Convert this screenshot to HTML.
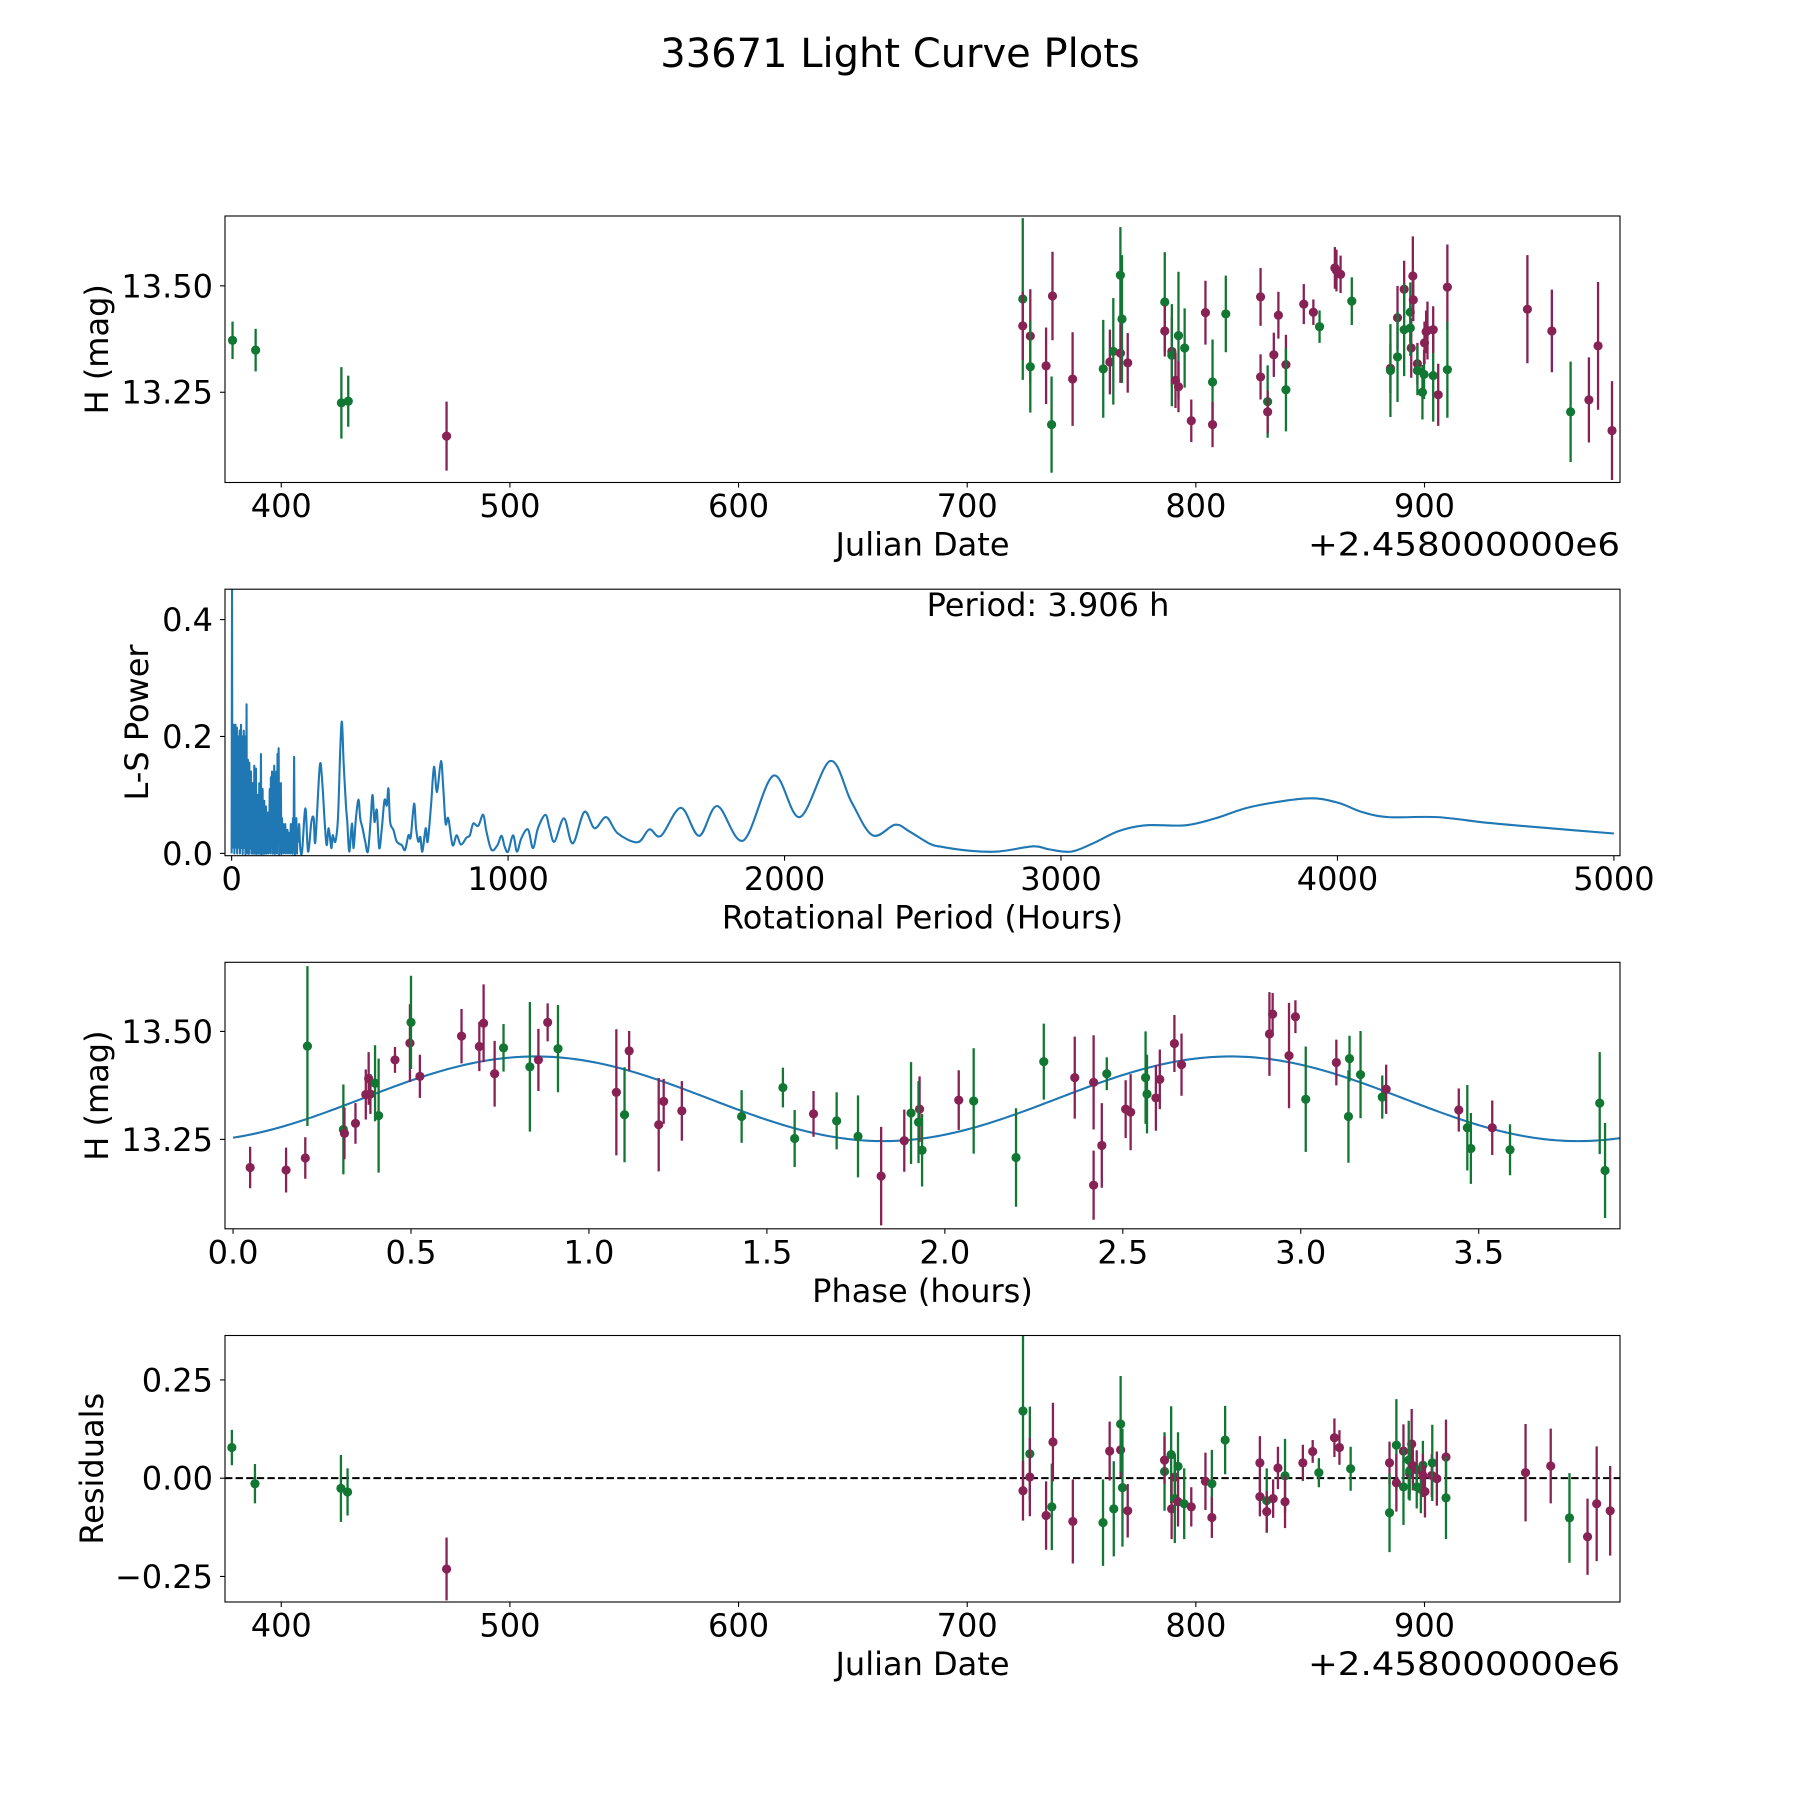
<!DOCTYPE html>
<html><head><meta charset="utf-8"><title>33671 Light Curve Plots</title>
<style>html,body{margin:0;padding:0;background:#fff}svg{display:block}text{font-family:"DejaVu Sans","Liberation Sans",sans-serif;fill:#000}</style>
</head><body>
<svg id="fig" xmlns="http://www.w3.org/2000/svg" width="1800" height="1800" viewBox="0 0 1800 1800">
<rect x="0" y="0" width="1800" height="1800" fill="#fff"/>
<text x="900" y="67" font-size="40" text-anchor="middle">33671 Light Curve Plots</text>
</svg>
<script>
// ---------- Panel 1: raw light curve ----------
const lcJD = [378.7,388.8,426.3,429.3,472.3,724.3,724.3,727.6,727.6,734.5,736.9,737.3,746.1,759.5,762.4,763.9,767.0,767.0,767.7,770.2,786.4,786.4,789.5,789.5,791.1,792.4,792.4,795.1,798.0,804.2,807.3,807.3,813.1,828.3,828.3,831.4,831.4,834.1,836.1,839.4,839.4,847.2,851.4,854.1,860.8,861.5,863.3,868.2,885.1,885.1,888.2,888.2,891.1,891.1,894.2,893.8,893.8,894.9,895.1,896.9,896.9,899.1,899.8,900.0,900.7,901.3,903.8,903.8,906.0,910.0,910.0,945.0,955.7,963.9,971.9,975.9,982.0];
const lcMag = [13.372,13.349,13.225,13.229,13.147,13.469,13.406,13.382,13.310,13.312,13.174,13.476,13.281,13.305,13.321,13.346,13.342,13.525,13.422,13.319,13.462,13.394,13.346,13.337,13.278,13.383,13.263,13.354,13.183,13.437,13.274,13.174,13.434,13.474,13.286,13.228,13.204,13.338,13.431,13.315,13.256,13.457,13.438,13.404,13.542,13.536,13.527,13.464,13.306,13.301,13.425,13.333,13.492,13.397,13.354,13.438,13.401,13.523,13.467,13.317,13.301,13.250,13.292,13.366,13.392,13.395,13.289,13.397,13.244,13.497,13.303,13.445,13.394,13.204,13.232,13.359,13.160];
const lcErr = [0.044,0.05,0.084,0.06,0.081,0.19,0.08,0.11,0.108,0.09,0.113,0.104,0.11,0.115,0.076,0.125,0.07,0.113,0.15,0.07,0.117,0.06,0.08,0.12,0.065,0.15,0.06,0.093,0.05,0.075,0.1,0.053,0.09,0.068,0.053,0.085,0.05,0.052,0.055,0.07,0.098,0.047,0.03,0.038,0.049,0.049,0.044,0.056,0.058,0.109,0.075,0.106,0.067,0.109,0.07,0.07,0.066,0.093,0.05,0.049,0.058,0.064,0.058,0.05,0.05,0.068,0.108,0.055,0.073,0.1,0.113,0.127,0.097,0.118,0.1,0.15,0.116];
const lcBand = ["g","g","g","g","m","g","m","m","g","m","g","m","m","g","m","g","m","g","g","m","g","m","m","g","m","g","m","g","m","m","g","m","g","m","m","g","m","m","m","m","g","m","m","g","m","m","m","g","m","g","m","g","m","g","m","g","g","m","m","m","g","g","g","m","m","m","g","m","m","m","g","m","m","g","m","m","m"];

// ---------- Panel 2: Lomb-Scargle periodogram ----------
const lsPeriod = [0,1.5,2.5,4,5,6.5,7.5,9,10,11.5,12.5,14,15,16.5,17.5,19,20,21.5,22.5,24,25,26.5,27.5,29,30,31.5,32.5,34,35,36.5,37.5,39,40,41.5,42.5,44,45,46.5,47.5,49,50,51.5,52.5,54,55,56.5,57.5,59,60,61.5,62.5,64,65.5,67,68.5,70,71.5,73,74.5,76,77.5,79,80.5,82,83.5,85,86.5,88,89.5,91,92.5,94,95.5,97,98.5,100,101.5,103,104.5,106,107.5,109,110.5,112,113.5,115,116.5,118,119.5,121,122.5,124,125.5,127,128.5,130,132,134,136,138,140,142,144,146,148,150,152,154,156,158,160,162,164,166,168,170,172,174,176,178,180,182,184,186,188,190,192,194,196,198,200,202,204,206,208,210,212,214,216,218,220,222,224,226,228,230,232,234,236,238,240,244,248,254.8,266.8,276.4,288.5,296.9,302.9,318.5,326.9,336.5,343.8,351,360.6,365.4,375,384.6,393,399,405,413.5,418.3,425.5,435.1,441.1,449.5,459.1,465.1,473.6,483.2,492.8,502.4,509.6,516.8,525.2,533.7,543.3,552.9,561.3,567.3,573.3,585.3,597.4,615.4,627.4,639.4,647.8,659.9,667.1,675.5,682.7,689.9,702,709.1,721.2,732,742.8,757.2,765.6,774,783.7,799.3,813.7,829.3,849.8,861.8,873.8,891.8,909.9,921.9,939.9,961.5,976,988,1000,1018,1032,1048,1072,1090,1108,1135,1150,1168,1202,1234,1276,1313,1355,1397,1469,1511,1553,1625,1691,1757,1851,1960,2055,2165,2242,2318,2400,2450,2527,2571,2659,2769,2900,2955,3037,3120,3208,3307,3450,3559,3691,3889,3999,4087,4185,4361,4548,4767,5000];
const lsPower = [0,0.46,0.02,0.22,0.01,0.21,0.03,0.22,0,0.19,0.02,0.22,0.01,0.2,0.03,0.215,0,0.17,0.02,0.2,0.01,0.15,0.03,0.21,0,0.18,0.02,0.22,0.01,0.14,0.03,0.2,0,0.12,0.02,0.21,0.01,0.13,0.02,0.2,0,0.1,0.02,0.255,0.01,0.13,0,0.16,0.02,0.09,0,0.155,0.01,0.08,0.02,0.14,0,0.1,0.02,0.12,0,0.07,0.01,0.15,0,0.1,0.02,0.145,0,0.08,0.01,0.1,0,0.06,0.02,0.12,0,0.07,0.01,0.17,0,0.09,0.02,0.11,0,0.06,0.01,0.09,0,0.05,0.02,0.08,0,0.05,0.01,0.07,0,0.05,0.02,0.11,0,0.13,0.02,0.14,0,0.09,0.02,0.15,0,0.08,0.01,0.14,0,0.17,0.02,0.18,0,0.08,0.02,0.12,0,0.06,0.02,0.05,0,0.04,0.02,0.05,0,0.03,0.02,0.04,0,0.03,0.02,0.035,0,0.05,0.02,0.03,0,0.06,0.01,0.165,0,0.04,0.02,0.06,0,0.035,0.02,0.05,0.01,0.003,0.077,0.003,0.054,0.06,0.02,0.148,0.128,0.054,0.014,0.043,0.009,0.031,0.02,0.06,0.179,0.225,0.156,0.082,0.054,0.003,0.051,0.009,0.06,0.092,0.06,0.043,0.02,0.003,0.054,0.1,0.054,0.074,0.009,0.043,0.091,0.082,0.111,0.054,0.04,0.02,0.014,0.006,0.031,0.028,0.085,0.043,0.02,0.028,0.003,0.043,0.02,0.082,0.148,0.105,0.158,0.111,0.051,0.06,0.014,0.031,0.015,0.027,0.031,0.051,0.047,0.066,0.037,0.006,0.014,0.03,0.011,0.003,0.031,0.003,0.026,0.041,0.009,0.043,0.066,0.043,0.02,0.06,0.017,0.071,0.043,0.062,0.034,0.019,0.041,0.03,0.078,0.03,0.081,0.022,0.133,0.062,0.158,0.088,0.031,0.049,0.038,0.016,0.011,0.005,0.003,0.012,0.007,0.003,0.018,0.038,0.048,0.048,0.06,0.08,0.094,0.087,0.071,0.062,0.062,0.052,0.043,0.034];
const bestPeriodHours = [3.906];

// ---------- Panel 3: phased light curve ----------
const phPhase = [0.048,0.149,0.203,0.209,0.310,0.313,0.344,0.373,0.381,0.386,0.399,0.409,0.455,0.497,0.500,0.525,0.642,0.692,0.704,0.735,0.760,0.834,0.858,0.884,0.913,1.077,1.100,1.113,1.196,1.210,1.261,1.429,1.545,1.578,1.631,1.696,1.756,1.821,1.886,1.905,1.929,1.926,1.936,2.039,2.081,2.200,2.278,2.365,2.418,2.418,2.441,2.455,2.508,2.522,2.564,2.568,2.593,2.604,2.645,2.665,2.912,2.921,2.967,2.985,3.014,3.100,3.134,3.137,3.168,3.229,3.240,3.444,3.468,3.478,3.538,3.588,3.840,3.855];
const phMag = [13.185,13.179,13.207,13.466,13.273,13.264,13.287,13.354,13.391,13.355,13.380,13.305,13.434,13.473,13.521,13.396,13.489,13.465,13.519,13.402,13.462,13.418,13.434,13.521,13.460,13.359,13.307,13.455,13.284,13.338,13.316,13.303,13.370,13.252,13.309,13.293,13.257,13.165,13.247,13.311,13.320,13.290,13.225,13.341,13.339,13.208,13.430,13.393,13.382,13.144,13.236,13.402,13.320,13.313,13.393,13.355,13.346,13.389,13.472,13.423,13.494,13.540,13.444,13.534,13.343,13.428,13.303,13.437,13.400,13.348,13.366,13.318,13.277,13.229,13.277,13.226,13.334,13.178];
const phErr = [0.048,0.052,0.048,0.185,0.104,0.06,0.047,0.058,0.061,0.046,0.088,0.132,0.03,0.09,0.108,0.05,0.063,0.057,0.09,0.076,0.055,0.15,0.072,0.044,0.101,0.146,0.11,0.046,0.108,0.052,0.069,0.061,0.046,0.066,0.053,0.066,0.095,0.114,0.072,0.118,0.076,0.095,0.084,0.069,0.122,0.114,0.088,0.095,0.109,0.08,0.098,0.038,0.067,0.088,0.107,0.091,0.076,0.069,0.066,0.072,0.097,0.049,0.122,0.038,0.122,0.053,0.107,0.053,0.101,0.05,0.057,0.05,0.099,0.082,0.063,0.059,0.118,0.11];
const phBand = ["m","m","m","g","g","m","m","m","m","m","g","g","m","m","g","m","m","m","m","m","g","g","m","m","g","m","g","m","m","m","m","g","g","g","m","g","g","m","m","g","m","g","g","m","g","g","g","m","m","m","m","g","m","m","g","g","m","m","m","m","m","m","m","m","g","m","g","g","g","g","m","m","g","g","m","g","g","g"];
// fitted sinusoid model: [mean, amplitude, phase of maximum, cycle length (h)]
const modelMean = [13.344];
const modelAmp = [0.098];
const modelPeakPhase = [0.85];
const modelCycle = [1.953];

// ---------- Panel 4: residuals ----------
const rsJD = [378.4,388.5,426.1,429.0,472.3,724.4,724.4,727.4,727.4,734.5,737.0,737.5,746.2,759.4,762.3,764.1,767.1,767.1,767.9,770.2,786.3,786.3,789.2,789.4,790.8,790.8,792.2,792.2,794.9,798.0,804.2,807.0,807.0,812.8,828.0,828.0,831.0,831.0,833.8,835.9,839.0,839.0,846.8,851.1,853.8,860.6,862.8,867.7,884.7,884.7,887.7,887.7,890.8,890.8,893.1,893.5,894.4,893.5,894.9,896.6,896.6,898.4,899.3,899.3,900.2,903.2,903.4,905.4,909.4,909.4,944.2,955.2,963.4,971.3,975.3,981.2];
const rsVal = [0.078,-0.014,-0.026,-0.035,-0.231,0.171,-0.032,0.062,0.003,-0.095,-0.073,0.092,-0.11,-0.113,0.069,-0.078,0.072,0.138,-0.024,-0.083,0.017,0.046,0.06,-0.078,0.003,-0.052,0.03,-0.06,-0.065,-0.073,-0.008,-0.014,-0.1,0.097,0.039,-0.047,-0.057,-0.085,-0.052,0.026,0.006,-0.06,0.039,0.068,0.014,0.103,0.078,0.024,0.039,-0.088,0.084,-0.012,0.069,-0.022,0.046,0.012,0.087,0.019,0.032,0.021,-0.022,-0.028,0.033,0.007,-0.034,0.007,0.039,-0.001,0.054,-0.05,0.014,0.031,-0.101,-0.149,-0.065,-0.083];
const rsErr = [0.045,0.05,0.085,0.06,0.08,0.2,0.076,0.12,0.1,0.087,0.11,0.1,0.107,0.11,0.075,0.121,0.07,0.122,0.15,0.068,0.1,0.06,0.123,0.077,0.057,0.113,0.087,0.063,0.09,0.05,0.073,0.086,0.052,0.087,0.068,0.05,0.082,0.052,0.049,0.054,0.094,0.067,0.046,0.029,0.037,0.049,0.044,0.056,0.054,0.1,0.117,0.073,0.068,0.097,0.1,0.054,0.089,0.076,0.063,0.05,0.055,0.061,0.062,0.055,0.066,0.055,0.097,0.069,0.095,0.105,0.124,0.095,0.114,0.097,0.146,0.114];
const rsBand = ["g","g","g","g","m","g","m","g","m","m","g","m","m","g","m","g","m","g","g","m","g","m","g","m","m","g","g","m","g","m","m","g","m","g","m","m","g","m","m","m","g","m","m","m","g","m","m","g","m","g","g","m","m","g","g","m","m","g","m","m","g","g","g","m","m","m","g","m","m","g","m","m","g","m","m","m"];

// ---------- axis tick labels ----------
const jdTicks = [400,500,600,700,800,900];
const magTicks = [13.25,13.50];
const magTickLabels = ["13.25","13.50"];
const periodTicks = [0,1000,2000,3000,4000,5000];
const powerTicks = [0.0,0.2,0.4];
const powerTickLabels = ["0.0","0.2","0.4"];
const phaseTicks = [0.0,0.5,1.0,1.5,2.0,2.5,3.0,3.5];
const phaseTickLabels = ["0.0","0.5","1.0","1.5","2.0","2.5","3.0","3.5"];
const resTicks = [-0.25,0.0,0.25];
const resTickLabels = ["\u22120.25","0.00","0.25"];

const NS = "http://www.w3.org/2000/svg";
const svg = document.getElementById("fig");
const COL = {g:"#117733", m:"#882255"};
const L = 225, R = 1620;
function lin(d0,d1,r0,r1){ return v => r0 + (v-d0)/(d1-d0)*(r1-r0); }
function mk(tag, attrs, parent){
  const e = document.createElementNS(NS, tag);
  for (const k in attrs) e.setAttribute(k, attrs[k]);
  (parent||svg).appendChild(e);
  return e;
}
let clipN = 0;
function panel(name, top, bottom, xs, ys, xt, xtl, yt, ytl, xlabel, ylabel, ylabX, offsetText){
  const g = mk("g", {});
  
  
  const id = "clip" + (clipN++);
  const cp = mk("clipPath", {id:id}, g);
  mk("rect", {x:L, y:top, width:R-L, height:bottom-top}, cp);
  const plot = mk("g", {"clip-path":"url(#"+id+")"}, g);
  
  
  xt.forEach((v,i) => {
    const x = xs(v);
    const t = mk("line", {x1:x, x2:x, y1:bottom, y2:bottom+5, stroke:"#000", "stroke-width":1.1}, g);
    
    
    const tx = mk("text", {x:x, y:bottom+34.5, "font-size":32, "text-anchor":"middle"}, g);
    tx.textContent = xtl[i];
    
    
  });
  yt.forEach((v,i) => {
    const y = ys(v);
    const t = mk("line", {x1:L-5, x2:L, y1:y, y2:y, stroke:"#000", "stroke-width":1.1}, g);
    
    
    const tx = mk("text", {x:L-12, y:y+11.5, "font-size":32, "text-anchor":"end"}, g);
    tx.textContent = ytl[i];
    
    
  });
  const xl = mk("text", {x:(L+R)/2, y:bottom+73, "font-size":32, "text-anchor":"middle"}, g);
  xl.textContent = xlabel;
  
  
  const cy = (top+bottom)/2;
  const yl = mk("text", {x:ylabX, y:cy, "font-size":32, "text-anchor":"middle", transform:"rotate(-90 "+ylabX+" "+cy+")"}, g);
  yl.textContent = ylabel;
  
  
  if (offsetText){
    const ot = mk("text", {x:R, y:bottom+73, "font-size":32, "text-anchor":"end", textLength:312, lengthAdjust:"spacingAndGlyphs"}, g);
    ot.textContent = offsetText;
    
    
  }
  return {g:g, plot:plot, frame: () => {
    const f = mk("rect", {x:L, y:top, width:R-L, height:bottom-top, fill:"none", stroke:"#000", "stroke-width":1.1}, g);
    
    
  }};
}
function errorPoints(plot, name, xsArr, ysArr, errArr, bandArr, xs, ys){
  xsArr.forEach((xv,i) => {
    const x = xs(xv), c = COL[bandArr[i]];
    const bar = mk("line", {x1:x, x2:x, y1:ys(ysArr[i]-errArr[i]), y2:ys(ysArr[i]+errArr[i]), stroke:c, "stroke-width":2.3}, plot);
    
    
    const pt = mk("circle", {cx:x, cy:ys(ysArr[i]), r:4.6, fill:c}, plot);
    
    
  });
}
function smoothPath(px, py){
  let d = "M" + px[0].toFixed(2) + "," + py[0].toFixed(2);
  for (let i=0;i<px.length-1;i++){
    const x0 = px[Math.max(i-1,0)], y0 = py[Math.max(i-1,0)];
    const x1 = px[i], y1 = py[i], x2 = px[i+1], y2 = py[i+1];
    const x3 = px[Math.min(i+2,px.length-1)], y3 = py[Math.min(i+2,px.length-1)];
    const c1x = x1 + (x2-x0)/6, c1y = y1 + (y2-y0)/6;
    const c2x = x2 - (x3-x1)/6, c2y = y2 - (y3-y1)/6;
    d += " C" + c1x.toFixed(2)+","+c1y.toFixed(2)+" "+c2x.toFixed(2)+","+c2y.toFixed(2)+" "+x2.toFixed(2)+","+y2.toFixed(2);
  }
  return d;
}

// Panel 1
const p1x = lin(375.4,985.5,L,R), p1y = lin(13.038,13.664,482.5,216);
const P1 = panel("light-curve-panel",216,482.5,p1x,p1y,jdTicks,jdTicks.map(String),magTicks,magTickLabels,"Julian Date","H (mag)",108,"+2.458000000e6");
errorPoints(P1.plot,"light-curve",lcJD,lcMag,lcErr,lcBand,p1x,p1y);
P1.frame();

// Panel 2
const p2x = lin(-24,5022,L,R), p2y = lin(-0.004,0.452,855.7,589.2);
const P2 = panel("periodogram-panel",589.2,855.7,p2x,p2y,periodTicks,periodTicks.map(String),powerTicks,powerTickLabels,"Rotational Period (Hours)","L-S Power",148,null);
const ls = mk("path", {d:smoothPath(lsPeriod.map(p2x), lsPower.map(p2y)), fill:"none", stroke:"#1f77b4", "stroke-width":2.1, "stroke-linejoin":"round"}, P2.plot);


const pt = mk("text", {x:1048, y:616, "font-size":32, "text-anchor":"middle"}, P2.g);
pt.textContent = "Period: " + bestPeriodHours[0].toFixed(3) + " h";


P2.frame();

// Panel 3
const p3x = lin(-0.0226,3.897,L,R), p3y = lin(13.043,13.66,1228.8,962.3);
const P3 = panel("phased-curve-panel",962.3,1228.8,p3x,p3y,phaseTicks,phaseTickLabels,magTicks,magTickLabels,"Phase (hours)","H (mag)",108,null);
const mxs = [], mys = [];
for (let i=0;i<=400;i++){
  const ph = bestPeriodHours[0]*i/400;
  mxs.push(p3x(ph));
  mys.push(p3y(modelMean[0] + modelAmp[0]*Math.cos(2*Math.PI*(ph-modelPeakPhase[0])/modelCycle[0])));
}
const ml = mk("path", {d:"M"+mxs.map((x,i)=>x.toFixed(2)+","+mys[i].toFixed(2)).join(" L"), fill:"none", stroke:"#1f77b4", "stroke-width":2.1}, P3.plot);


errorPoints(P3.plot,"phased",phPhase,phMag,phErr,phBand,p3x,p3y);
P3.frame();

// Panel 4
const p4y = lin(-0.315,0.363,1602,1335.5);
const P4 = panel("residuals-panel",1335.5,1602,p1x,p4y,jdTicks,jdTicks.map(String),resTicks,resTickLabels,"Julian Date","Residuals",103,"+2.458000000e6");
const zl = mk("line", {x1:L, x2:R, y1:p4y(0), y2:p4y(0), stroke:"#000", "stroke-width":2, "stroke-dasharray":"7.4,3.2"}, P4.plot);


errorPoints(P4.plot,"residual",rsJD,rsVal,rsErr,rsBand,p1x,p4y);
P4.frame();
</script>
</body></html>
